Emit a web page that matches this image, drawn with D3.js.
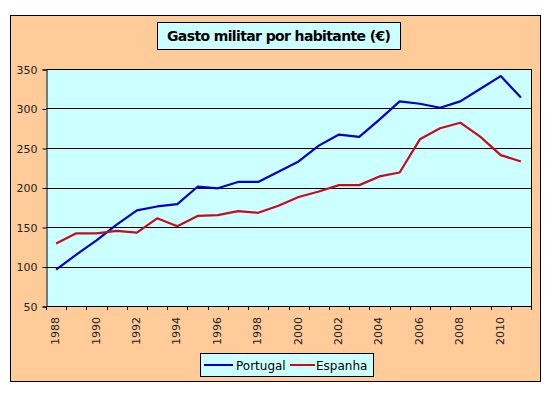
<!DOCTYPE html>
<html>
<head>
<meta charset="utf-8">
<script src="https://cdn.jsdelivr.net/npm/d3@7"></script>
<style>
  body { margin: 0; background: #fff; }
  text { font-family: "DejaVu Sans", sans-serif; }
</style>
</head>
<body>
<svg id="chart" width="553" height="397"></svg>
<script>
var years = d3.range(1988, 2012);
var portugal = [96, 115, 133, 153, 171, 176, 179, 201, 199, 207, 207, 220, 233, 253, 267, 264, 286, 309, 306, 301, 309, 325, 341, 314];
var espanha = [129, 142, 142, 145, 143, 161, 151, 164, 165, 170, 168, 177, 188, 195, 203, 203, 214, 219, 261, 275, 282, 264, 241, 233];
var yTicks = [50, 100, 150, 200, 250, 300, 350];
var series = [
  { name: "Portugal", values: portugal, color: "#0000cc" },
  { name: "Espanha", values: espanha, color: "#cc0a1e" }
];

var svg = d3.select("#chart"),
    pL = 46, pR = 531, pT = 69, pB = 306;

// chart area background
svg.append("rect")
    .attr("x", 10.5).attr("y", 15.5)
    .attr("width", 530).attr("height", 366)
    .attr("fill", "#ffcc99").attr("stroke", "#000");

var x = d3.scaleBand().domain(years).range([pL, pR]);
var y = d3.scaleLinear().domain([50, 350]).range([pB, pT]);

// plot area
svg.append("rect")
    .attr("x", pL).attr("y", pT)
    .attr("width", pR - pL).attr("height", pB - pT)
    .attr("fill", "#ccffff");

// gridlines
svg.append("g").selectAll("line")
    .data(yTicks.slice(1))
    .enter().append("line")
    .attr("x1", pL).attr("x2", pR)
    .attr("y1", function (d) { return Math.round(y(d)) + 0.5; })
    .attr("y2", function (d) { return Math.round(y(d)) + 0.5; })
    .attr("stroke", "#000");

svg.append("line")
    .attr("x1", pR + 0.5).attr("x2", pR + 0.5)
    .attr("y1", pT).attr("y2", pB)
    .attr("stroke", "#000");

// y axis
var yAxis = svg.append("g")
    .attr("transform", "translate(" + (pL + 0.5) + ",0.5)")
    .call(d3.axisLeft(y).tickValues(yTicks).tickSize(4).tickPadding(5));
yAxis.selectAll("text").attr("font-size", 11).attr("fill", "#222").style("font-family", "DejaVu Sans");
yAxis.select(".domain").attr("stroke", "#000");

// x axis: ticks at category boundaries
var bounds = years.map(function (d) { return x(d); }).concat([pR]);
var xAxis = svg.append("g");
xAxis.append("line")
    .attr("x1", pL).attr("x2", pR + 1)
    .attr("y1", pB + 0.5).attr("y2", pB + 0.5)
    .attr("stroke", "#000");
xAxis.selectAll("line.tick")
    .data(bounds)
    .enter().append("line")
    .attr("class", "tick")
    .attr("x1", function (d) { return Math.round(d) + 0.5; })
    .attr("x2", function (d) { return Math.round(d) + 0.5; })
    .attr("y1", pB).attr("y2", pB + 4)
    .attr("stroke", "#000");
xAxis.selectAll("text")
    .data(years.filter(function (d, i) { return i % 2 === 0; }))
    .enter().append("text")
    .attr("transform", function (d) {
        return "translate(" + (x(d) + x.bandwidth() / 2 + 3) + "," + (pB + 11) + ") rotate(-90)";
    })
    .attr("text-anchor", "end")
    .attr("font-size", 11)
    .attr("fill", "#222")
    .text(function (d) { return d; });

// lines
var line = d3.line()
    .x(function (d, i) { return x(years[i]) + x.bandwidth() / 2; })
    .y(function (d) { return y(d); });

svg.append("g").selectAll("path")
    .data(series)
    .enter().append("path")
    .attr("d", function (d) { return line(d.values); })
    .attr("fill", "none")
    .attr("stroke", function (d) { return d.color; })
    .attr("stroke-width", 2.2)
    .attr("stroke-linejoin", "round");

// title
svg.append("rect")
    .attr("x", 157.5).attr("y", 22.5)
    .attr("width", 243).attr("height", 27)
    .attr("fill", "#ccffff").attr("stroke", "#000");
svg.append("text")
    .attr("x", 279).attr("y", 41)
    .attr("text-anchor", "middle")
    .attr("font-size", 14)
    .attr("font-weight", "bold")
    .attr("textLength", 224)
    .text("Gasto militar por habitante (€)");

// legend
var legend = svg.append("g");
legend.append("rect")
    .attr("x", 200.5).attr("y", 353.5)
    .attr("width", 173).attr("height", 23)
    .attr("fill", "#ccffff").attr("stroke", "#000");
var lx = [204, 290];
series.forEach(function (s, i) {
    legend.append("line")
        .attr("x1", lx[i]).attr("x2", lx[i] + (i === 0 ? 29 : 25))
        .attr("y1", 365).attr("y2", 365)
        .attr("stroke", s.color).attr("stroke-width", 2);
    legend.append("text")
        .attr("x", lx[i] + (i === 0 ? 32 : 26)).attr("y", 369.5)
        .attr("font-size", 12)
        .text(s.name);
});
</script>
</body>
</html>
